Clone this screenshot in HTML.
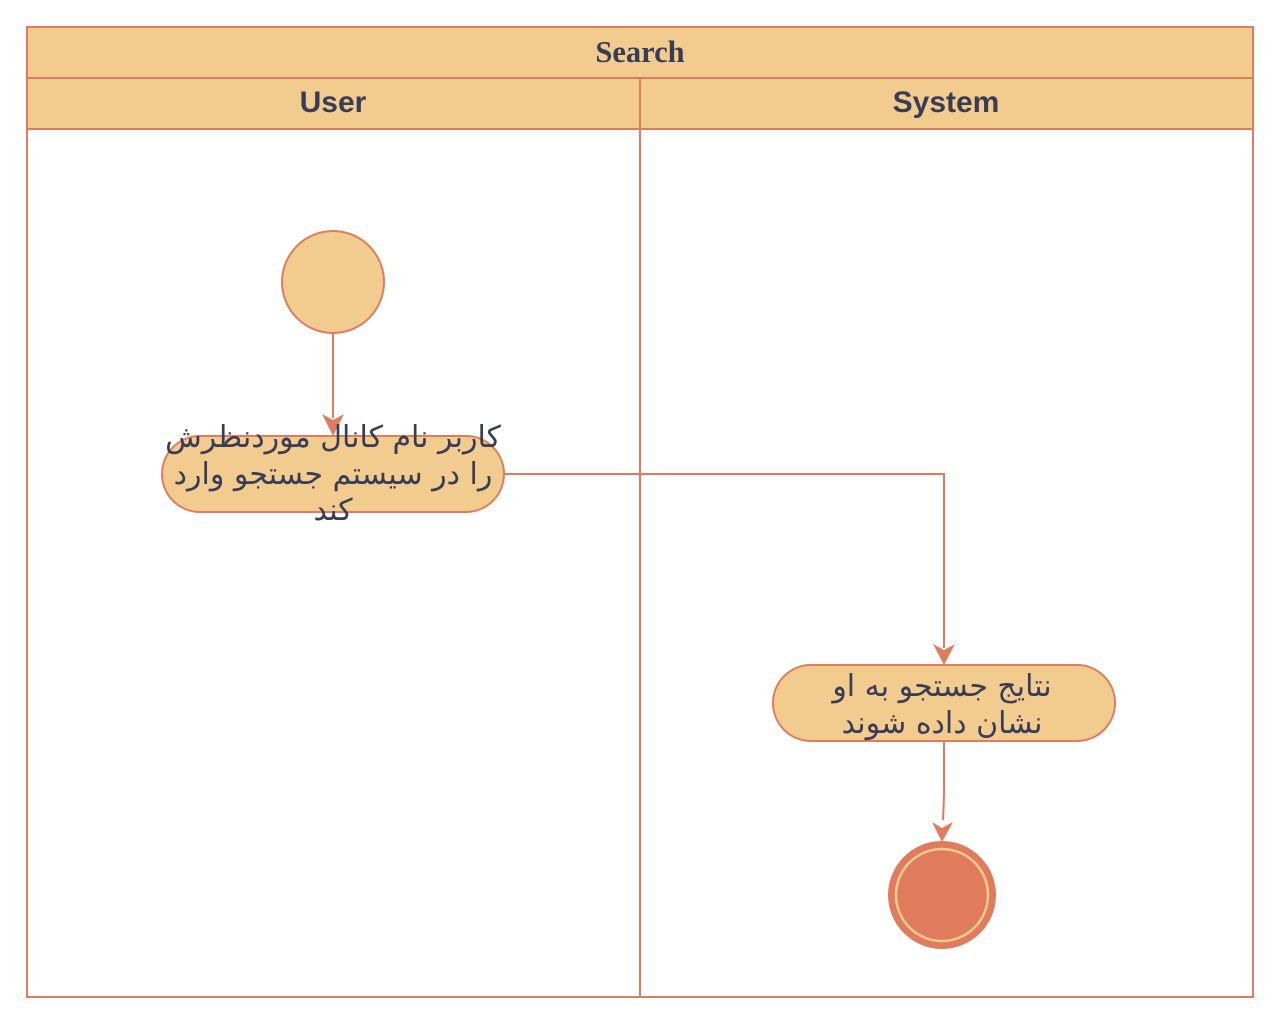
<!DOCTYPE html>
<html><head><meta charset="utf-8"><style>
html,body{margin:0;padding:0;background:#fff;width:1280px;height:1027px;overflow:hidden}
</style></head><body>
<svg width="1280" height="1027" xmlns="http://www.w3.org/2000/svg">
<rect x="0" y="0" width="1280" height="1027" fill="#fff"/>
<rect x="27" y="27" width="1226" height="970" fill="#fff" stroke="#e07b5d" stroke-width="2"/>
<rect x="27" y="27" width="1226" height="51" fill="#f2cb8f" stroke="#e07b5d" stroke-width="2"/>
<rect x="27" y="78" width="613" height="51" fill="#f2cb8f" stroke="#e07b5d" stroke-width="2"/>
<rect x="640" y="78" width="613" height="51" fill="#f2cb8f" stroke="#e07b5d" stroke-width="2"/>
<line x1="640" y1="129" x2="640" y2="997" stroke="#e07b5d" stroke-width="2"/>
<text x="640" y="62" text-anchor="middle" font-family="Liberation Serif, serif" font-weight="bold" font-size="30.5" fill="#393c56">Search</text>
<text x="333" y="112" text-anchor="middle" font-family="Liberation Sans, sans-serif" font-weight="bold" font-size="30" fill="#393c56">User</text>
<text x="946" y="112" text-anchor="middle" font-family="Liberation Sans, sans-serif" font-weight="bold" font-size="30" fill="#393c56">System</text>
<circle cx="333" cy="282" r="51" fill="#f2cb8f" stroke="#e07b5d" stroke-width="2"/>
<line x1="333" y1="333" x2="333" y2="418" stroke="#e07b5d" stroke-width="2"/>
<polygon points="322,414 333,436 344,414 333,420" fill="#e07b5d"/>
<rect x="162" y="436" width="342" height="76" rx="38" fill="#f2cb8f" stroke="#e07b5d" stroke-width="2"/>
<polyline points="504,474 944,474 944,648" fill="none" stroke="#e07b5d" stroke-width="2"/>
<polygon points="933,644 944,665 955,644 944,650" fill="#e07b5d"/>
<rect x="773" y="665" width="342" height="76" rx="38" fill="#f2cb8f" stroke="#e07b5d" stroke-width="2"/>
<path d="M944 741 L944 790 Q944 800 943 820" fill="none" stroke="#e07b5d" stroke-width="2"/>
<polygon points="932,822 942,842 953,822 942,828" fill="#e07b5d"/>
<circle cx="942" cy="895" r="54" fill="#e07b5d"/>
<circle cx="942" cy="895" r="46" fill="none" stroke="#f2cb8f" stroke-width="2.5"/>
<g font-family="'DejaVu Sans', 'Noto Sans CJK SC', sans-serif" font-size="30" fill="#393c56" text-anchor="middle" direction="rtl">
<text x="333" y="447">کاربر نام کانال موردنظرش</text>
<text x="333" y="484">را در سیستم جستجو وارد</text>
<text x="333" y="520">کند</text>
<text x="942" y="696">نتایج جستجو به او</text>
<text x="942" y="733">نشان داده شوند</text>
</g>
</svg>
</body></html>
